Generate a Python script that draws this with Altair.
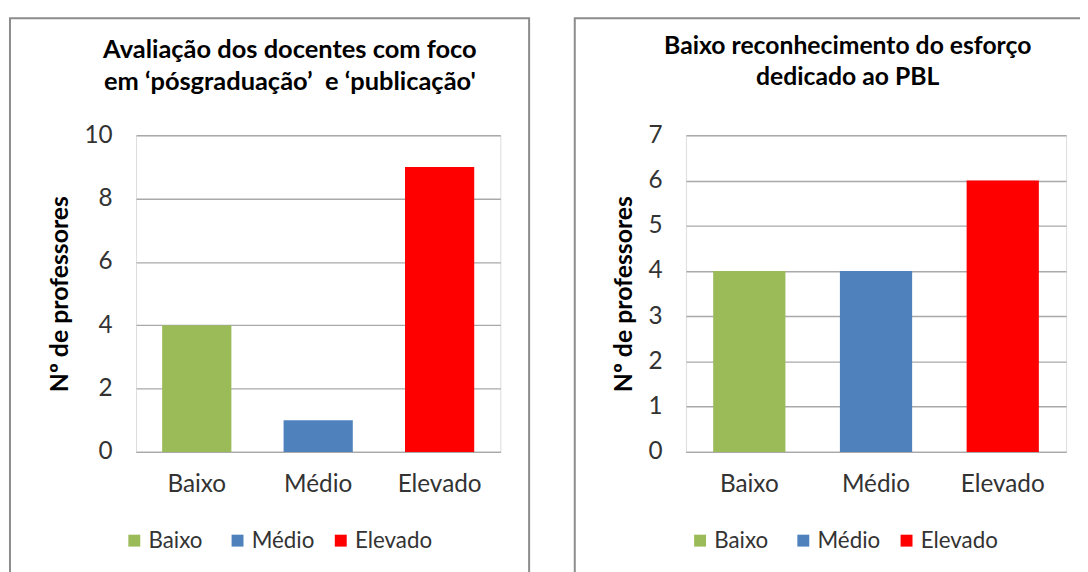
import altair as alt
import pandas as pd

# ---- data -------------------------------------------------------------
categories = ["Baixo", "Médio", "Elevado"]
bar_colors = ["#9BBB59", "#4F81BD", "#FF0000"]

values_left = [4, 1, 9]
values_right = [4, 4, 6]

ticks_left = [0, 2, 4, 6, 8, 10]
ticks_right = [0, 1, 2, 3, 4, 5, 6, 7]

title_left = ["Avaliação dos docentes com foco", "em ‘pósgraduação’\u00a0 e ‘publicação'"]
title_right = ["Baixo reconhecimento do esforço", "dedicado ao PBL"]
y_title = "Nº de professores"

FONT = "Lato"
GRID = "#a9a9a9"
FRAME = "#8c8c8c"
TXT = "#333333"


def panel(values, ticks, ymax, title, width, frame_box, title_fs, title_lh, title_dx,
          title_offset, legend_x):
    df = pd.DataFrame({"cat": categories, "n": values})
    bars = alt.Chart(df).mark_bar().encode(
        x=alt.X("cat:N", sort=categories,
                scale=alt.Scale(paddingInner=0.43, paddingOuter=0.215),
                axis=alt.Axis(title=None, labelAngle=0, labelFont=FONT, labelFontSize=24.5,
                              labelColor=TXT, labelPadding=21, ticks=False, tickSize=0,
                              domain=True, domainColor=GRID, domainWidth=1.4, grid=False)),
        y=alt.Y("n:Q", scale=alt.Scale(domain=[0, ymax], nice=False, zero=True),
                axis=alt.Axis(values=ticks, title=y_title, titleFont=FONT, titleFontSize=25,
                              titleFontWeight="bold", titleColor="#000000", titlePadding=12,
                              labelFont=FONT, labelFontSize=24.5, labelColor=TXT, labelPadding=24,
                              ticks=False, tickSize=0, domain=False, grid=True,
                              gridColor=GRID, gridWidth=1.4)),
        color=alt.Color("cat:N", scale=alt.Scale(domain=categories, range=bar_colors),
                        legend=alt.Legend(title=None, orient="none", legendX=legend_x, legendY=397,
                                          direction="horizontal", symbolType="square",
                                          symbolSize=144, symbolStrokeWidth=0,
                                          labelFont=FONT, labelFontSize=22.5, labelColor=TXT,
                                          labelOffset=3, columnPadding=-4, gridAlign="all")),
    )
    frame = alt.Chart(pd.DataFrame({"k": [0]})).mark_rect(
        fill="white", fillOpacity=0, stroke=FRAME, strokeWidth=2
    ).encode(
        x=alt.value(frame_box[0]), x2=alt.value(frame_box[1]),
        y=alt.value(frame_box[2]), y2=alt.value(frame_box[3]),
    )
    return alt.layer(frame, bars).properties(
        width=width, height=319,
        title=alt.TitleParams(text=title, anchor="middle", frame="group", dx=title_dx,
                              offset=title_offset, font=FONT, fontSize=title_fs,
                              fontWeight="bold", color="#000000", lineHeight=title_lh),
    )


left = panel(values_left, ticks_left, 10, title_left, 367, (-127, 396, -118, 470),
             25.6, 32, -28.5, -79, -13)
right = panel(values_right, ticks_right, 7, title_right, 383, (-112, 460, -118, 470),
              24.9, 31, -28.5, -73.5, 3)

chart = alt.hconcat(left, right, spacing=42).resolve_scale(
    color="independent", y="independent", x="independent"
).resolve_legend(color="independent").properties(
    autosize=alt.AutoSizeParams(type="none"),
    padding={"left": 129, "top": 125, "right": 951, "bottom": 425},
).configure_view(strokeWidth=0).configure(background="white")

chart.save("out.html", embed_options={"renderer": "svg", "actions": False})
